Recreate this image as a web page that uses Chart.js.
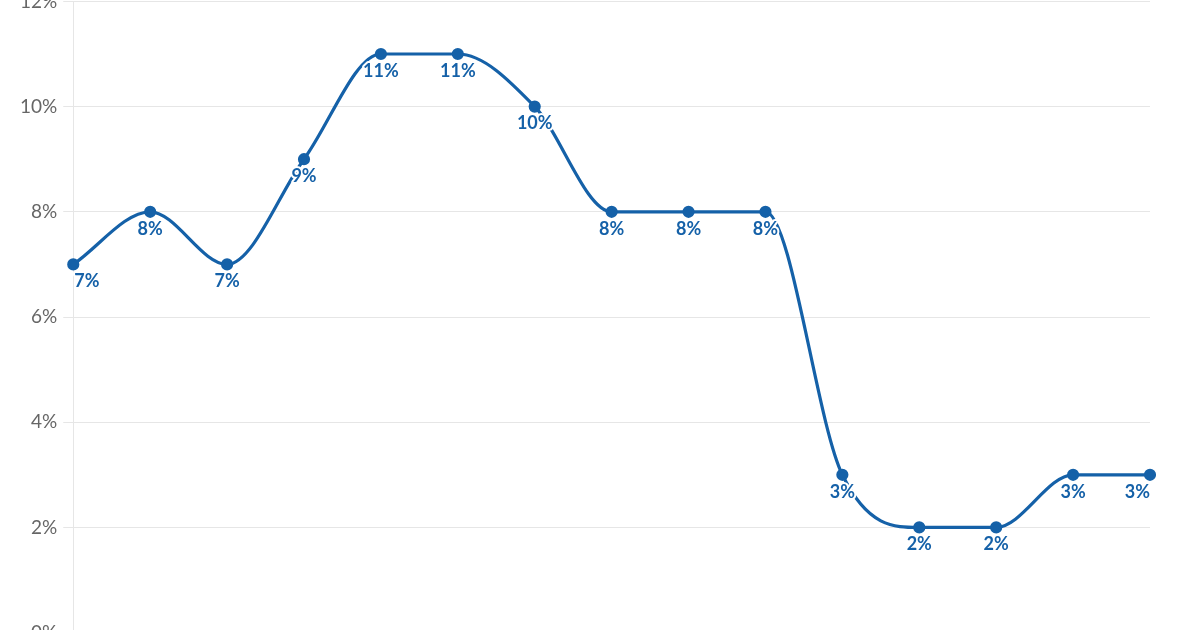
<!DOCTYPE html>
<html lang="en">
<head>
    <meta charset="UTF-8">
    <title>Line chart</title>
    <script src="https://cdn.jsdelivr.net/npm/chart.js"></script>
    <style>
        html, body { margin: 0; padding: 0; background: #fff; overflow: hidden; }
        #wrap { position: absolute; left: 0; top: -16px; width: 1200px; height: 666px; }
    </style>
</head>
<body>
    <div id="wrap"><canvas id="rateChart" width="1200" height="666"></canvas></div>
    <script>
        // chart data
        const categories = ['2010', '2011', '2012', '2013', '2014', '2015', '2016', '2017',
                            '2018', '2019', '2020', '2021', '2022', '2023', '2024'];
        const rates = [7, 8, 7, 9, 11, 11, 10, 8, 8, 8, 3, 2, 2, 3, 3];
        const yTicks = [0, 2, 4, 6, 8, 10, 12];

        const lineColor = '#1561a8';

        // value labels under each point, white halo, kept inside the plot area
        const pointLabels = {
            id: 'pointLabels',
            afterDatasetsDraw(chart) {
                const ctx = chart.ctx;
                const area = chart.chartArea;
                const meta = chart.getDatasetMeta(0);
                ctx.save();
                ctx.font = 'bold 18px Lato';
                ctx.textBaseline = 'top';
                ctx.textAlign = 'center';
                ctx.lineJoin = 'round';
                meta.data.forEach((pt, i) => {
                    const text = rates[i] + '%';
                    const w = ctx.measureText(text).width;
                    let x = pt.x;
                    if (x - w / 2 < area.left) x = area.left + w / 2 + 1;
                    if (x + w / 2 > area.right) x = area.right - w / 2;
                    const y = pt.y + 8;
                    ctx.strokeStyle = '#fff';
                    ctx.lineWidth = 4;
                    ctx.strokeText(text, x, y);
                    ctx.fillStyle = lineColor;
                    ctx.fillText(text, x, y);
                });
                ctx.restore();
            }
        };

        new Chart(document.getElementById('rateChart'), {
            type: 'line',
            data: {
                labels: categories,
                datasets: [{
                    data: rates,
                    borderColor: lineColor,
                    backgroundColor: lineColor,
                    borderWidth: 3.2,
                    pointRadius: 4.5,
                    pointHoverRadius: 4.5,
                    cubicInterpolationMode: 'monotone',
                    fill: false
                }]
            },
            options: {
                responsive: false,
                animation: false,
                layout: { padding: { left: 14, right: 50, top: 0, bottom: 0 } },
                plugins: {
                    legend: { display: false },
                    tooltip: { enabled: false }
                },
                scales: {
                    x: { display: false, offset: false },
                    y: {
                        min: 0,
                        max: 12,
                        afterBuildTicks: axis => { axis.ticks = yTicks.map(v => ({ value: v })); },
                        ticks: {
                            callback: v => v + '%',
                            color: '#666',
                            font: { family: 'Lato', size: 19 },
                            padding: 6
                        },
                        grid: { color: '#e6e6e6', tickLength: 10 },
                        border: { color: '#e6e6e6' }
                    }
                }
            },
            plugins: [pointLabels]
        });
    </script>
</body>
</html>
